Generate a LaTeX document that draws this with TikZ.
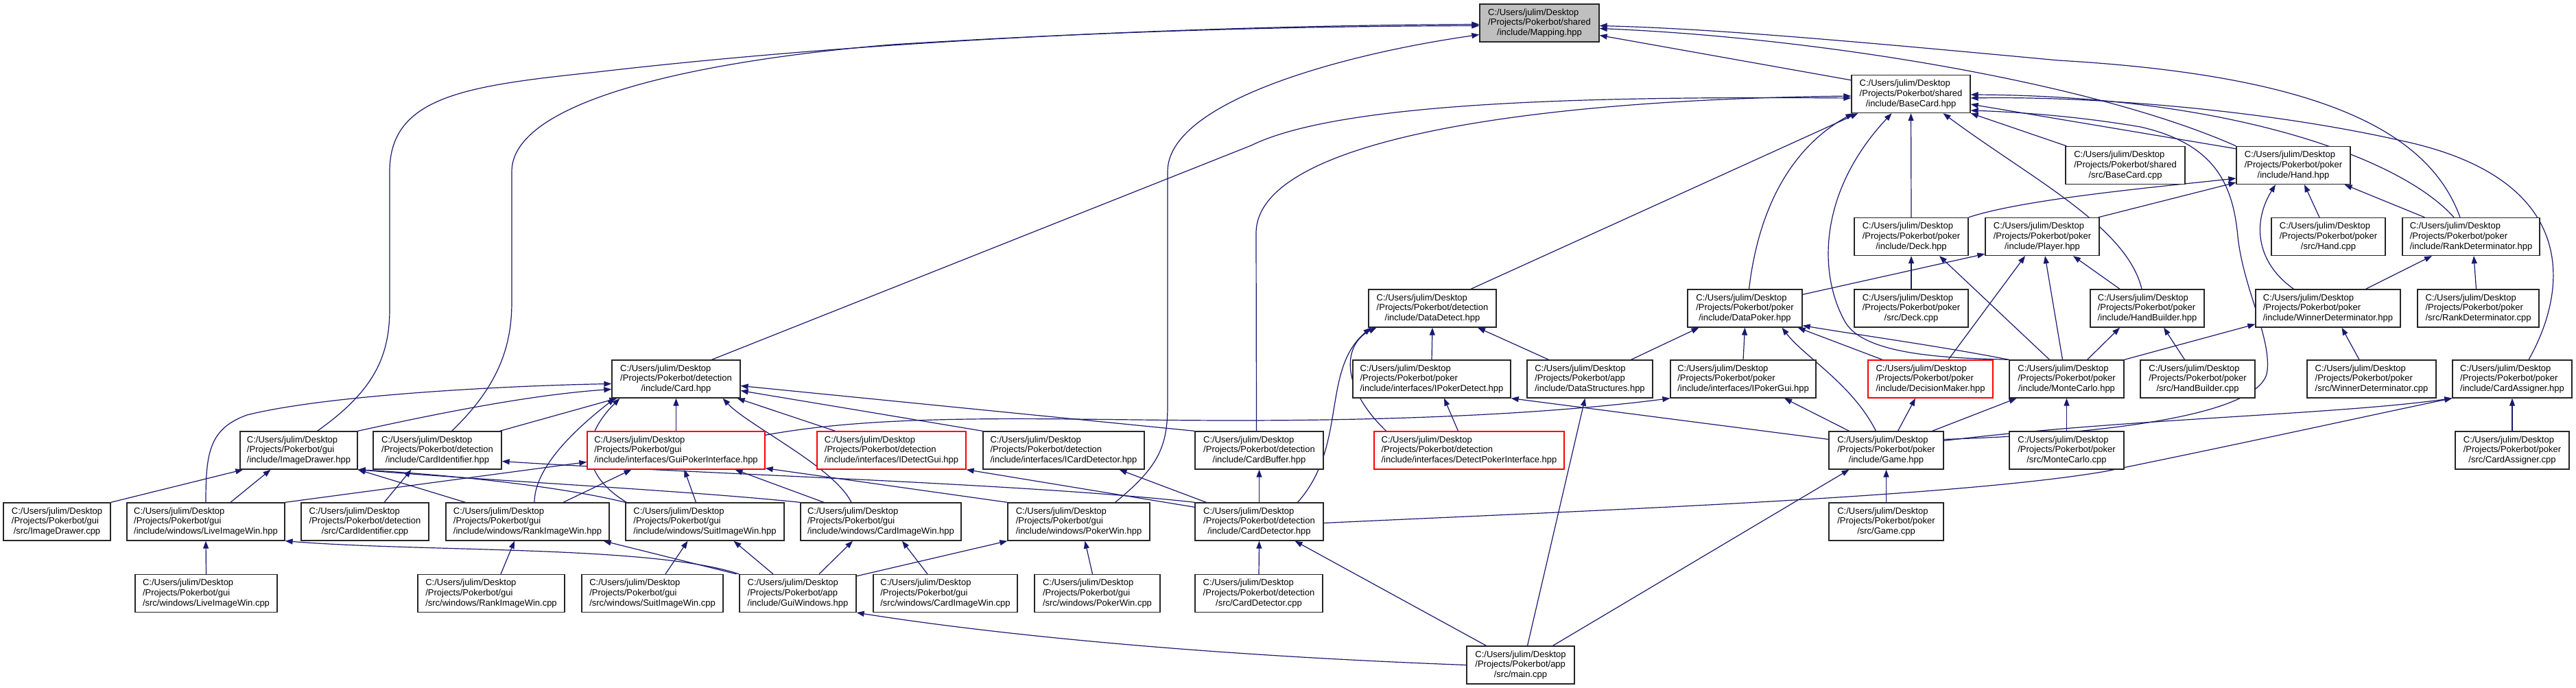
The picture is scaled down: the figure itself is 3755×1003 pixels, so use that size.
\documentclass[tikz,border=0pt]{standalone}
\usepackage{fontspec}
\setmainfont{Liberation Sans}
\usetikzlibrary{arrows.meta}
\pgfdeclarelayer{background}
\pgfdeclarelayer{paper}
\pgfsetlayers{paper,background,main}
\definecolor{edgec}{HTML}{191970}
\definecolor{mapfill}{HTML}{BFBFBF}
\newbox\lbA \newbox\lbB \newbox\lbC \newdimen\lbW
\newcommand\lbl[3]{%
  \setbox\lbA=\hbox{#1}\setbox\lbB=\hbox{#2}\setbox\lbC=\hbox{#3}%
  \lbW=\wd\lbA
  \ifdim\wd\lbB>\lbW \lbW=\wd\lbB\fi
  \ifdim\wd\lbC>\lbW \lbW=\wd\lbC\fi
  \vbox{\baselineskip=14.7pt\lineskiplimit=-20pt\lineskip=0pt
    \hbox to\lbW{\box\lbA\hfil}\hbox to\lbW{\box\lbB\hfil}\hbox to\lbW{\hfil\box\lbC\hfil}}}
\newcommand\gnode[7]{\node[#1, minimum width={#3-#2}] (#4) at ({(#2+#3)/2},#5) {\lbl{C:/Users/julim/Desktop}{/Projects/Pokerbot/#6}{#7}};}
\tikzset{
  nb/.style={draw=black!85, line width=1.3pt, fill=white, inner sep=0pt, minimum height=55pt, font=\fontsize{13}{14.7}\selectfont, text=black},
  nred/.style={nb, draw=red},
  nmap/.style={nb, fill=mapfill},
  e/.style={draw=edgec, line width=1.2pt, -{Triangle[length=11pt,width=8pt]}},
}
\begin{document}
\begin{tikzpicture}[x=1pt,y=-1pt]
\begin{pgfonlayer}{paper}
\fill[white] (0,0) rectangle (3755,1003);
\end{pgfonlayer}
\useasboundingbox (0,0) rectangle (3755,1003);
% row 0-1
\gnode{nmap}{2157}{2331}{map}{33.5}{shared}{/include/Mapping.hpp}
\gnode{nb}{2699}{2872}{bc}{137}{shared}{/include/BaseCard.hpp}
% row 2
\gnode{nb}{3011}{3185}{bccpp}{241}{shared}{/src/BaseCard.cpp}
\gnode{nb}{3260}{3426}{hand}{241}{poker}{/include/Hand.hpp}
% row 3
\gnode{nb}{2703}{2869}{deck}{345}{poker}{/include/Deck.hpp}
\gnode{nb}{2894}{3060}{player}{345}{poker}{/include/Player.hpp}
\gnode{nb}{3311}{3477}{handcpp}{345}{poker}{/src/Hand.cpp}
\gnode{nb}{3502}{3702}{rankdet}{345}{poker}{/include/RankDeterminator.hpp}
% row 4
\gnode{nb}{1995}{2181}{datadet}{449.5}{detection}{/include/DataDetect.hpp}
\gnode{nb}{2460}{2627}{datapoker}{449.5}{poker}{/include/DataPoker.hpp}
\gnode{nb}{2703}{2869}{deckcpp}{449.5}{poker}{/src/Deck.cpp}
\gnode{nb}{3047}{3213}{handbuilder}{449.5}{poker}{/include/HandBuilder.hpp}
\gnode{nb}{3288}{3499}{winnerdet}{449.5}{poker}{/include/WinnerDeterminator.hpp}
\gnode{nb}{3524}{3701}{rankdetcpp}{449.5}{poker}{/src/RankDeterminator.cpp}
% row 5
\gnode{nb}{892}{1079}{card}{552.5}{detection}{/include/Card.hpp}
\gnode{nb}{1972}{2202}{ipokerdetect}{552.5}{poker}{/include/interfaces/IPokerDetect.hpp}
\gnode{nb}{2226}{2409}{datastruct}{552.5}{app}{/include/DataStructures.hpp}
\gnode{nb}{2435}{2647}{ipokergui}{552.5}{poker}{/include/interfaces/IPokerGui.hpp}
\gnode{nred}{2723}{2905}{decision}{552.5}{poker}{/include/DecisionMaker.hpp}
\gnode{nb}{2929}{3096}{montecarlo}{552.5}{poker}{/include/MonteCarlo.hpp}
\gnode{nb}{3120}{3287}{handbuildercpp}{552.5}{poker}{/src/HandBuilder.cpp}
\gnode{nb}{3363}{3551}{winnerdetcpp}{552.5}{poker}{/src/WinnerDeterminator.cpp}
\gnode{nb}{3575}{3749}{cardassigner}{552.5}{poker}{/include/CardAssigner.hpp}
% row 6
\gnode{nb}{350}{521}{imagedrawer}{656.5}{gui}{/include/ImageDrawer.hpp}
\gnode{nb}{544}{731}{cardident}{656.5}{detection}{/include/CardIdentifier.hpp}
\gnode{nred}{856}{1115}{guipoker}{656.5}{gui}{/include/interfaces/GuiPokerInterface.hpp}
\gnode{nred}{1191}{1408}{idetectgui}{656.5}{detection}{/include/interfaces/IDetectGui.hpp}
\gnode{nb}{1433}{1668}{icarddet}{656.5}{detection}{/include/interfaces/ICardDetector.hpp}
\gnode{nb}{1742}{1929}{cardbuffer}{656.5}{detection}{/include/CardBuffer.hpp}
\gnode{nred}{2003}{2280}{detectpoker}{656.5}{detection}{/include/interfaces/DetectPokerInterface.hpp}
\gnode{nb}{2666}{2833}{game}{656.5}{poker}{/include/Game.hpp}
\gnode{nb}{2929}{3096}{montecarlocpp}{656.5}{poker}{/src/MonteCarlo.cpp}
\gnode{nb}{3579}{3745}{cardassignercpp}{656.5}{poker}{/src/CardAssigner.cpp}
% row 7
\gnode{nb}{5}{161}{imagedrawercpp}{760.5}{gui}{/src/ImageDrawer.cpp}
\gnode{nb}{185}{415}{liveimg}{760.5}{gui}{/include/windows/LiveImageWin.hpp}
\gnode{nb}{439}{625}{cardidentcpp}{760.5}{detection}{/src/CardIdentifier.cpp}
\gnode{nb}{650}{888}{rankimg}{760.5}{gui}{/include/windows/RankImageWin.hpp}
\gnode{nb}{912}{1143}{suitimg}{760.5}{gui}{/include/windows/SuitImageWin.hpp}
\gnode{nb}{1167}{1401}{cardimg}{760.5}{gui}{/include/windows/CardImageWin.hpp}
\gnode{nb}{1469}{1676}{pokerwin}{760.5}{gui}{/include/windows/PokerWin.hpp}
\gnode{nb}{1742}{1929}{carddet}{760.5}{detection}{/include/CardDetector.hpp}
\gnode{nb}{2666}{2833}{gamecpp}{760.5}{poker}{/src/Game.cpp}
% row 8
\gnode{nb}{197}{404}{liveimgcpp}{865}{gui}{/src/windows/LiveImageWin.cpp}
\gnode{nb}{609}{823}{rankimgcpp}{865}{gui}{/src/windows/RankImageWin.cpp}
\gnode{nb}{848}{1054}{suitimgcpp}{865}{gui}{/src/windows/SuitImageWin.cpp}
\gnode{nb}{1078}{1248}{guiwin}{865}{app}{/include/GuiWindows.hpp}
\gnode{nb}{1273}{1483}{cardimgcpp}{865}{gui}{/src/windows/CardImageWin.cpp}
\gnode{nb}{1508}{1691}{pokerwincpp}{865}{gui}{/src/windows/PokerWin.cpp}
\gnode{nb}{1742}{1928}{carddetcpp}{865}{detection}{/src/CardDetector.cpp}
% row 9
\gnode{nb}{2138}{2295}{main}{969.5}{app}{/src/main.cpp}

\begin{pgfonlayer}{background}
% into Mapping
\draw[e] ([yshift=-8pt]bc.north west) -- ([yshift=-18pt]map.east);
\draw[e] (hand.north west) .. controls (3050,120) and (2650,55) .. ([yshift=-8pt]map.east);
\draw[e] ([xshift=-16pt]rankdet.north) .. controls (3540,190) and (3380,110) .. (3000,88) .. controls (2700,60) and (2500,42) .. ([yshift=-4pt]map.east);
\draw[e] ([xshift=27pt]imagedrawer.north) .. controls (545,570) and (568,520) .. (568,450) -- (568,250) .. controls (568,140) and (680,125) .. (870,105) .. controls (1300,55) and (1800,37) .. ([yshift=-2pt]map.west);
\draw[e] ([xshift=21pt]cardident.north) .. controls (730,560) and (746,500) .. (746,440) -- (746,250) .. controls (746,150) and (1000,90) .. (1300,65) .. controls (1700,40) and (2000,38) .. ([yshift=-4pt]map.west);
\draw[e] ([xshift=53pt]pokerwin.north) .. controls (1690,680) and (1702,650) .. (1702,590) -- (1702,250) .. controls (1702,150) and (1950,80) .. ([yshift=-17pt]map.west);
% into BaseCard
\draw[e] ([yshift=-4pt]hand.north west) -- ([yshift=-15pt]bc.east);
\draw[e] ([xshift=-25pt]rankdet.north) .. controls (3500,230) and (3250,140) .. ([yshift=-1pt]bc.east);
\draw[e] ([xshift=2pt]bccpp.north west) -- (bc.south east);
\draw[e] (deck.north) -- (bc.south);
\draw[e] ([xshift=56pt]datadet.north) -- ([xshift=10pt]bc.south west);
\draw[e] ([xshift=6pt]datapoker.north) .. controls (2565,290) and (2620,210) .. ([xshift=3pt]bc.south west);
\draw[e] ([xshift=-8pt]handbuilder.north) .. controls (3100,330) and (2960,260) .. ([xshift=47pt]bc.south);
\draw[e] (montecarlo.north west) .. controls (2850,522) and (2720,520) .. (2690,470) .. controls (2650,400) and (2650,280) .. ([xshift=-28pt]bc.south);
\draw[e] ([xshift=52pt]card.north) -- (1824,212) .. controls (1950,150) and (2300,140) .. ([yshift=-6pt]bc.west);
\draw[e] ([xshift=-4pt]cardbuffer.north) -- (1831,340) .. controls (1831,200) and (2250,145) .. ([yshift=-3pt]bc.west);
\draw[e] ([xshift=24pt]cardassigner.north) .. controls (3745,420) and (3760,260) .. (3500,205) .. controls (3300,160) and (3050,140) .. ([yshift=-6pt]bc.east);
\draw[e] ([yshift=16pt]game.east) .. controls (3100,632) and (3300,600) .. (3305,540) .. controls (3310,490) and (3270,420) .. (3262,345) .. controls (3255,270) and (3230,210) .. (3120,185) .. controls (3020,168) and (2930,163) .. ([yshift=-24pt]bc.east);
% into Hand
\draw[e] (deck.north east) .. controls (2950,290) and (3150,272) .. ([yshift=-19pt]hand.west);
\draw[e] ([xshift=-2pt]player.north east) -- ([yshift=-25pt]hand.west);
\draw[e] ([xshift=-13pt]handcpp.north) -- ([xshift=16pt]hand.south);
\draw[e] ([xshift=33pt]rankdet.north west) -- ([xshift=-9pt]hand.south east);
\draw[e] ([xshift=-50pt]winnerdet.north) .. controls (3285,380) and (3285,320) .. ([xshift=-26pt]hand.south);
% into Deck / Player / RankDeterminator
\draw[e] (deckcpp.north) -- (deck.south);
\draw[e] ([xshift=-25pt]montecarlo.north) -- ([xshift=41pt]deck.south);
\draw[e] ([yshift=-8pt]datapoker.north east) -- ([yshift=3pt]player.south west);
\draw[e] ([xshift=26pt]decision.north) -- ([xshift=-25pt]player.south);
\draw[e] ([xshift=-6pt]montecarlo.north) -- ([xshift=4pt]player.south);
\draw[e] ([xshift=-40pt]handbuilder.north) -- ([xshift=45pt]player.south);
\draw[e] ([xshift=55pt]winnerdet.north) -- ([xshift=-57pt]rankdet.south);
\draw[e] ([xshift=-3pt]rankdetcpp.north) -- ([xshift=4pt]rankdet.south);
% into DataDetect
\draw[e] (ipokerdetect.north) -- (datadet.south);
\draw[e] ([xshift=-60pt]datastruct.north) -- ([xshift=66pt]datadet.south);
\draw[e] ([xshift=-121pt]detectpoker.north) .. controls (1950,560) and (1960,500) .. ([xshift=12pt]datadet.south west);
\draw[e] ([xshift=56pt]carddet.north) .. controls (1965,650) and (1925,540) .. ([xshift=4pt]datadet.south west);
% into DataPoker
\draw[e] ([xshift=60pt]datastruct.north) -- ([xshift=-67pt]datapoker.south);
\draw[e] (ipokergui.north) -- (datapoker.south);
\draw[e] ([xshift=-70pt]decision.north) -- ([xshift=-7pt]datapoker.south east);
\draw[e] (montecarlo.north west) .. controls (2830,505) and (2720,490) .. ([yshift=3pt]datapoker.south east);
\draw[e] ([xshift=-15pt]game.north) .. controls (2700,560) and (2630,520) .. ([xshift=54pt]datapoker.south);
% into HandBuilder / WinnerDeterminator
\draw[e] ([xshift=30pt]montecarlo.north) -- ([xshift=-40pt]handbuilder.south);
\draw[e] ([xshift=-19pt]handbuildercpp.north) -- ([xshift=24pt]handbuilder.south);
\draw[e] (montecarlo.north east) -- ([yshift=5pt]winnerdet.south west);
\draw[e] ([xshift=-18pt]winnerdetcpp.north) -- ([xshift=20pt]winnerdet.south);
% into row 5 headers
\draw[e] ([xshift=-16pt]detectpoker.north) -- ([xshift=18pt]ipokerdetect.south);
\draw[e] ([yshift=16pt]game.west) -- (ipokerdetect.south east);
\draw[e] ([xshift=10pt]main.north) -- ([xshift=-7pt]datastruct.south);
\draw[e] ([yshift=-6pt]guipoker.north east) .. controls (1300,600) and (1550,613) .. (1800,613) .. controls (2100,613) and (2300,598) .. (ipokergui.south west);
\draw[e] ([xshift=-54pt]game.north) -- ([xshift=60pt]ipokergui.south);
\draw[e] ([xshift=17pt]game.north) -- ([xshift=-22pt]decision.south);
\draw[e] ([xshift=67pt]game.north) -- ([xshift=-73pt]montecarlo.south);
\draw[e] (montecarlocpp.north) -- (montecarlo.south);
\draw[e] ([yshift=14pt]game.east) .. controls (3100,610) and (3400,605) .. (cardassigner.south west);
\draw[e] ([yshift=-2pt]carddet.east) .. controls (2300,745) and (2850,725) .. (3070,687) .. controls (3300,640) and (3480,600) .. (cardassigner.south west);
\draw[e] (cardassignercpp.north) -- (cardassigner.south);
% into Card
\draw[e] (imagedrawer.north east) .. controls (650,600) and (780,575) .. ([yshift=-15pt]card.west);
\draw[e] (liveimg.north) .. controls (300,660) and (305,625) .. (360,605) .. controls (480,575) and (750,562) .. ([yshift=-7pt]card.west);
\draw[e] ([xshift=-3pt]cardident.north east) -- ([xshift=8pt]card.south west);
\draw[e] (guipoker.north) -- (card.south);
\draw[e] ([xshift=-82pt]idetectgui.north) -- ([xshift=-5pt]card.south east);
\draw[e] (icarddet.north west) -- ([yshift=-17pt]card.east);
\draw[e] (cardbuffer.north west) -- ([yshift=-10pt]card.east);
\draw[e] ([xshift=10pt]rankimg.north) .. controls (779,690) and (820,640) .. ([xshift=5pt]card.south west);
\draw[e] ([xshift=2pt]suitimg.north west) .. controls (860,700) and (835,650) .. ([xshift=12pt]card.south west);
\draw[e] ([xshift=-43pt]cardimg.north) .. controls (1215,680) and (1090,620) .. ([xshift=-26pt]card.south east);
% into ImageDrawer / CardIdentifier
\draw[e] (imagedrawercpp.north east) -- ([xshift=5pt]imagedrawer.south west);
\draw[e] ([xshift=36pt]liveimg.north) -- ([xshift=-41pt]imagedrawer.south);
\draw[e] ([xshift=29pt]rankimg.north west) -- (imagedrawer.south east);
\draw[e] (suitimg.north west) .. controls (800,705) and (620,690) .. (imagedrawer.south east);
\draw[e] (cardimg.north west) .. controls (1000,715) and (700,700) .. (imagedrawer.south east);
\draw[e] ([xshift=28pt]cardidentcpp.north) -- ([xshift=-38pt]cardident.south);
\draw[e] (carddet.north west) .. controls (1500,705) and (1000,690) .. ([yshift=-16pt]cardident.east);
% into GuiPokerInterface
\draw[e] (liveimg.north east) -- ([yshift=-17pt]guipoker.west);
\draw[e] ([xshift=52pt]rankimg.north) -- ([xshift=-65pt]guipoker.south);
\draw[e] ([xshift=-13pt]suitimg.north) -- ([xshift=12pt]guipoker.south);
\draw[e] ([xshift=-83pt]cardimg.north) -- ([xshift=86pt]guipoker.south);
\draw[e] (pokerwin.north west) -- ([yshift=2pt]guipoker.south east);
% from CardDetector
\draw[e] ([yshift=-7pt]carddet.north west) -- (idetectgui.south east);
\draw[e] ([xshift=17pt]carddet.north west) -- ([xshift=81pt]icarddet.south);
\draw[e] (carddet.north) -- (cardbuffer.south);
% into Game
\draw[e] (gamecpp.north) -- (game.south);
\draw[e] ([xshift=47pt]main.north) -- ([xshift=-54pt]game.south);
% row 8
\draw[e] (liveimgcpp.north) -- (liveimg.south);
\draw[e] (guiwin.north west) .. controls (950,795) and (620,805) .. (liveimg.south east);
\draw[e] ([xshift=14pt]rankimgcpp.north) -- ([xshift=-19pt]rankimg.south);
\draw[e] ([xshift=-4pt]guiwin.north west) -- ([xshift=-9pt]rankimg.south east);
\draw[e] ([xshift=19pt]suitimgcpp.north) -- ([xshift=-25pt]suitimg.south);
\draw[e] ([xshift=-36pt]guiwin.north) -- ([xshift=42pt]suitimg.south);
\draw[e] ([xshift=-26pt]cardimgcpp.north) -- ([xshift=31pt]cardimg.south);
\draw[e] ([xshift=31pt]guiwin.north) -- ([xshift=-41pt]cardimg.south);
\draw[e] ([xshift=-7pt]pokerwincpp.north) -- ([xshift=9pt]pokerwin.south);
\draw[e] ([yshift=-3pt]guiwin.north east) -- (pokerwin.south west);
\draw[e] (carddetcpp.north) -- (carddet.south);
\draw[e] ([xshift=-50pt]main.north) -- ([xshift=52pt]carddet.south);
\draw[e] (main.west) .. controls (1750,955) and (1450,925) .. (guiwin.south east);
\end{pgfonlayer}
\end{tikzpicture}
\end{document}
